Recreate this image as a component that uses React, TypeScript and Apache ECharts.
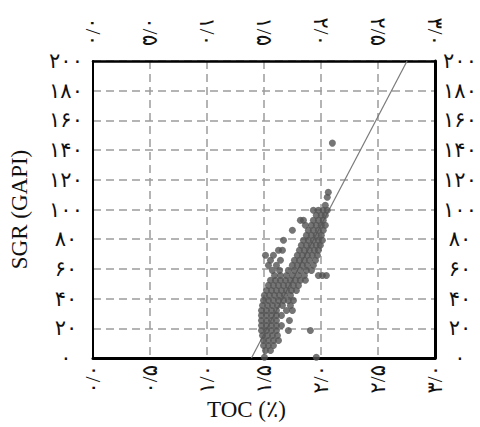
import React, { useEffect, useRef } from "react";
import * as echarts from "echarts";

const xTickLabels = ["۰/۰", "۰/۵", "۱/۰", "۱/۵", "۲/۰", "۲/۵", "۳/۰"];
const yTickLabels = ["۰", "۲۰", "۴۰", "۶۰", "۸۰", "۱۰۰", "۱۲۰", "۱۴۰", "۱۶۰", "۱۸۰", "۲۰۰"];
const xName = "TOC (٪)";
const yName = "SGR (GAPI)";

// Rows of the scatter: SGR value and the TOC values read at that level
const rowSGR = [
  144.7, 111.6, 108.3, 102.9, 99.5, 96.1, 92.7, 89.4, 86.0, 82.7, 79.3, 75.9, 72.5,
  69.2, 65.8, 62.4, 59.0, 55.6, 52.3, 48.9, 45.5, 42.2, 38.8, 35.4, 32.0, 28.7,
  25.3, 21.9, 18.5, 15.2, 11.8, 8.4, 5.1, 0.5,
];
const rowTOC: number[][] = [
  [2.1],
  [2.064],
  [2.055],
  [2.038],
  [1.933, 1.977, 2.02, 2.055],
  [1.959, 2.003, 2.038],
  [1.819, 1.846, 1.933, 1.977, 2.02],
  [1.863, 1.916, 1.959, 2.003, 2.038],
  [1.749, 1.889, 1.933, 1.977, 2.02],
  [1.872, 1.916, 1.959, 2.003],
  [1.671, 1.846, 1.889, 1.933, 1.977, 2.012],
  [1.828, 1.872, 1.916, 1.959, 1.994],
  [1.627, 1.662, 1.811, 1.854, 1.898, 1.942, 1.977],
  [1.513, 1.583, 1.793, 1.837, 1.88, 1.924, 1.968],
  [1.557, 1.644, 1.767, 1.811, 1.854, 1.898, 1.951],
  [1.539, 1.609, 1.749, 1.793, 1.837, 1.88, 1.933],
  [1.574, 1.636, 1.714, 1.767, 1.819, 1.872, 1.916],
  [1.592, 1.644, 1.697, 1.749, 1.802, 1.854, 1.977, 2.012, 2.047],
  [1.557, 1.601, 1.644, 1.688, 1.732, 1.776, 1.819, 1.863],
  [1.539, 1.583, 1.627, 1.671, 1.714, 1.758, 1.802],
  [1.522, 1.566, 1.609, 1.653, 1.697, 1.741, 1.784],
  [1.504, 1.548, 1.592, 1.636, 1.679, 1.732],
  [1.496, 1.539, 1.583, 1.627, 1.671, 1.714, 1.758],
  [1.487, 1.531, 1.574, 1.618, 1.662, 1.732],
  [1.478, 1.522, 1.566, 1.609, 1.697, 1.749],
  [1.478, 1.522, 1.566, 1.609, 1.653],
  [1.478, 1.522, 1.566, 1.609, 1.723],
  [1.478, 1.522, 1.566, 1.609, 1.653],
  [1.478, 1.522, 1.566, 1.609, 1.714, 1.907],
  [1.487, 1.531, 1.574, 1.618],
  [1.496, 1.539, 1.583, 1.627],
  [1.496, 1.539, 1.583],
  [1.513, 1.557],
  [1.504, 1.959],
];

// Regression line end points [TOC, SGR]
const fitLine: [number, number][] = [
  [1.39, 0],
  [2.755, 200],
];

const points: [number, number][] = [];
rowSGR.forEach((s, i) => rowTOC[i].forEach((t) => points.push([t, s])));

const labelFont = "'Liberation Serif', 'DejaVu Sans', serif";
const tickSize = 21;

export default function App() {
  const ref = useRef<HTMLDivElement>(null);
  useEffect(() => {
    if (!ref.current) return;
    const chart = echarts.init(ref.current, undefined, { renderer: "svg" });
    const xFmt = (v: number) => xTickLabels[Math.round(v / 0.5)] ?? "";
    const yFmt = (v: number) => yTickLabels[Math.round(v / 20)] ?? "";
    const dashed = { type: [8, 5] as any, color: "#9c9c9c", width: 1.5 };
    const tickText = {
      color: "#111",
      fontSize: tickSize,
      fontFamily: labelFont,
      fontWeight: "normal" as const,
    };
    chart.setOption({
      animation: false,
      backgroundColor: "#ffffff",
      grid: { left: 92, right: 45, top: 61, bottom: 69 },
      xAxis: [
        {
          type: "value",
          position: "bottom",
          min: 0,
          max: 3,
          interval: 0.5,
          axisLine: { onZero: false, lineStyle: { color: "#000", width: 3 } },
          axisTick: { show: false },
          splitLine: { show: true, lineStyle: dashed },
          axisLabel: { rotate: 90, margin: 7, formatter: xFmt, ...tickText },
        },
        {
          type: "value",
          position: "top",
          min: 0,
          max: 3,
          interval: 0.5,
          axisLine: { onZero: false, lineStyle: { color: "#000", width: 2.5 } },
          axisTick: { show: false },
          splitLine: { show: false },
          axisLabel: { rotate: 90, margin: 15, formatter: xFmt, ...tickText },
        },
      ],
      yAxis: [
        {
          type: "value",
          position: "left",
          min: 0,
          max: 200,
          interval: 20,
          name: yName,
          nameLocation: "middle",
          nameGap: 62,
          nameTextStyle: { fontSize: 23, color: "#111", fontFamily: labelFont },
          axisLine: { onZero: false, lineStyle: { color: "#000", width: 2 } },
          axisTick: { show: false },
          splitLine: { show: true, lineStyle: dashed },
          axisLabel: { align: "center", margin: 27, formatter: yFmt, ...tickText },
        },
        {
          type: "value",
          position: "right",
          min: 0,
          max: 200,
          interval: 20,
          axisLine: { onZero: false, lineStyle: { color: "#000", width: 3 } },
          axisTick: { show: false },
          splitLine: { show: false },
          axisLabel: { align: "center", margin: 25, formatter: yFmt, ...tickText },
        },
      ],
      graphic: [
        {
          type: "text",
          left: 207,
          top: 398,
          style: {
            text: xName,
            fontSize: 23,
            fill: "#111",
            fontFamily: labelFont,
          },
        },
      ],
      series: [
        {
          type: "line",
          data: fitLine,
          showSymbol: false,
          symbol: "none",
          lineStyle: { color: "#7a7a7a", width: 1.2 },
          z: 1,
        },
        {
          type: "scatter",
          data: points,
          symbolSize: 7,
          clip: false,
          itemStyle: { color: "#525252" },
          z: 2,
        },
      ],
    });
    return () => chart.dispose();
  }, []);
  return (
    <div
      ref={ref}
      style={{ position: "absolute", left: 0, top: 0, width: 480, height: 427 }}
    />
  );
}
